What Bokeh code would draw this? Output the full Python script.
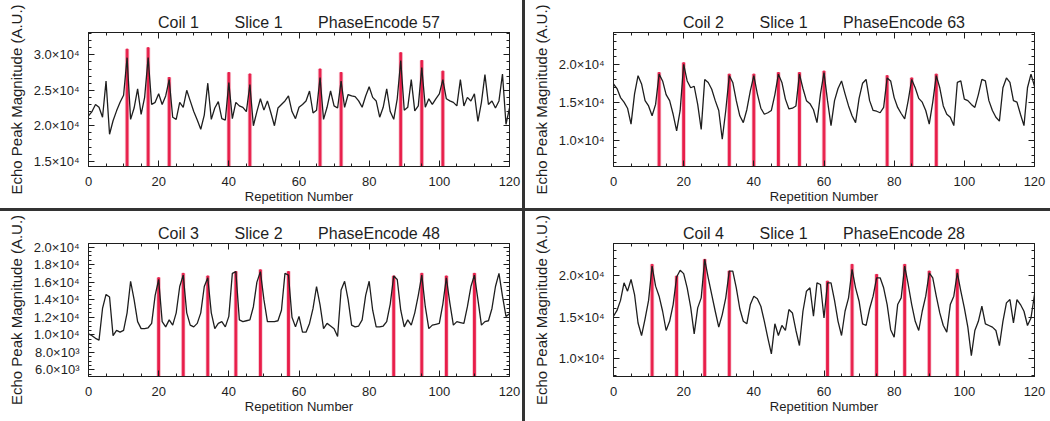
from bokeh.plotting import figure
from bokeh.models import Range1d, LinearAxis, FixedTicker, CustomJSTickFormatter, ColumnDataSource, Div
from bokeh.layouts import row, column
from bokeh.embed import file_html
from bokeh.resources import INLINE

repetition = list(range(0, 121))

coil1_values = [21.4, 22.0, 23.0, 22.6, 21.2, 26.3, 18.8, 20.7, 22.1, 23.3,
                24.3, 29.6, 20.9, 22.5, 25.2, 21.6, 24.0, 29.6, 23.0, 23.3,
                24.5, 23.0, 24.2, 26.5, 21.2, 20.9, 23.3, 22.6, 25.0, 23.5,
                22.0, 20.8, 19.5, 21.5, 26.0, 20.9, 22.5, 23.4, 21.0, 20.8,
                26.1, 21.0, 23.3, 22.8, 22.6, 22.0, 25.8, 20.0, 22.0, 23.8,
                22.2, 23.5, 21.8, 20.0, 22.5, 23.0, 23.5, 24.2, 22.0, 21.0,
                22.6, 23.0, 23.5, 24.9, 21.8, 22.2, 26.8, 20.9, 22.6, 24.9,
                22.8, 22.5, 26.3, 22.6, 24.4, 24.2, 24.1, 23.5, 22.6, 24.2,
                25.5, 24.0, 23.5, 21.2, 22.6, 25.2, 22.0, 20.9, 23.8, 29.2,
                22.2, 22.6, 26.5, 22.1, 22.8, 28.2, 22.6, 23.8, 23.0, 23.8,
                24.5, 26.5, 23.8, 23.5, 23.3, 22.8, 26.5, 22.8, 24.0, 23.5,
                24.5, 20.6, 23.3, 27.2, 23.0, 23.5, 22.5, 23.5, 27.3, 20.2,
                22.5]
coil1_marks = [11, 17, 23, 40, 46, 66, 72, 89, 95, 101]
coil1_mark_tops = [30.8, 31.0, 26.8, 27.5, 27.3, 28.0, 27.5, 30.3, 29.2, 27.7]

coil2_values = [17.4, 16.8, 15.6, 15.0, 14.2, 12.1, 16.1, 18.5, 17.4, 15.2,
                14.5, 13.2, 14.7, 18.7, 17.8, 16.0, 15.2, 13.4, 11.2, 13.9,
                20.0, 17.8, 16.9, 17.1, 14.7, 11.4, 18.0, 17.6, 16.7, 15.2,
                13.9, 10.1, 13.9, 18.5, 17.6, 15.2, 13.2, 12.3, 14.0, 16.5,
                18.5, 16.1, 14.2, 13.4, 13.6, 13.9, 16.0, 18.7, 17.6, 15.4,
                14.1, 14.2, 14.5, 18.7, 16.8, 15.2, 14.8, 14.0, 12.3, 16.1,
                18.9, 15.2, 11.9, 15.2, 16.8, 17.8, 16.1, 14.5, 13.2, 12.3,
                15.5, 17.5, 18.0, 15.2, 13.9, 13.8, 13.6, 14.3, 18.2, 17.8,
                15.6, 14.3, 13.5, 12.8, 15.2, 18.0, 16.9, 15.5, 15.0, 13.9,
                12.1, 15.0, 18.5, 16.9, 14.5, 13.4, 13.0, 11.9, 17.6, 17.8,
                15.4, 15.2, 14.7, 14.3, 16.0, 18.0, 17.8, 15.2, 13.9, 13.0,
                12.5, 16.9, 18.2, 17.6, 15.2, 15.0, 13.4, 11.9, 16.9, 18.7,
                17.1]
coil2_marks = [13, 20, 33, 40, 47, 53, 60, 78, 85, 92]
coil2_mark_tops = [18.9, 20.2, 18.7, 18.7, 18.9, 18.9, 19.1, 18.5, 18.2, 18.7]

coil3_values = [10.1, 9.9, 9.6, 9.4, 13.0, 14.6, 14.3, 9.9, 10.5, 10.3,
                10.5, 12.5, 16.1, 14.0, 11.5, 10.7, 10.7, 10.8, 11.3, 14.5,
                16.3, 11.5, 10.9, 11.7, 11.1, 12.5, 15.5, 16.8, 12.5, 11.1,
                10.9, 11.3, 12.5, 15.5, 16.5, 12.5, 10.7, 11.3, 11.5, 10.9,
                12.1, 17.0, 17.2, 11.7, 11.5, 11.6, 11.7, 13.2, 16.0, 17.2,
                14.0, 11.5, 11.5, 11.5, 11.6, 12.8, 17.0, 16.8, 12.0, 10.9,
                12.1, 10.3, 10.3, 11.3, 13.0, 15.5, 13.4, 10.7, 11.3, 11.0,
                10.7, 9.8, 15.1, 16.1, 14.0, 11.1, 10.9, 11.0, 11.7, 14.5,
                16.1, 12.8, 10.9, 10.9, 11.0, 11.5, 13.5, 16.7, 16.3, 12.8,
                10.9, 11.7, 11.1, 12.5, 14.5, 16.8, 13.2, 10.7, 11.1, 11.2,
                11.3, 13.5, 16.5, 13.6, 11.1, 11.5, 11.4, 11.3, 13.2, 15.5,
                16.8, 14.0, 11.1, 11.5, 11.6, 13.0, 15.5, 17.0, 14.4, 12.1,
                12.4]
coil3_marks = [20, 27, 34, 42, 49, 57, 87, 95, 102, 110]
coil3_mark_tops = [16.5, 17.0, 16.7, 17.2, 17.4, 17.2, 16.7, 17.0, 16.7, 17.0]

coil4_values = [15.1, 15.8, 17.0, 19.1, 18.1, 19.5, 17.7, 14.3, 12.8, 14.8,
                17.0, 21.1, 18.7, 17.5, 15.7, 13.4, 14.5, 16.5, 19.8, 20.6,
                20.2, 18.5, 16.2, 13.0, 16.1, 17.3, 21.9, 19.7, 17.7, 15.7,
                13.8, 15.3, 17.3, 20.5, 20.5, 18.5, 16.0, 14.5, 14.2, 16.5,
                17.5, 17.2, 16.3, 14.5, 12.5, 10.6, 14.2, 12.8, 14.0, 13.4,
                15.9, 15.5, 13.4, 11.6, 15.7, 18.1, 18.5, 15.1, 19.1, 18.9,
                14.9, 19.1, 19.1, 17.0, 14.5, 12.8, 15.7, 17.3, 20.7, 18.5,
                16.9, 14.2, 14.0, 16.0, 17.5, 19.7, 19.7, 18.5, 16.5, 13.5,
                12.6, 16.5, 17.3, 21.1, 18.9, 16.5, 14.5, 13.4, 15.7, 17.5,
                20.3, 19.7, 17.5, 15.5, 14.0, 13.2, 16.5, 17.5, 20.3, 18.1,
                16.1, 13.8, 10.4, 13.4, 14.5, 16.3, 14.2, 14.0, 13.8, 13.4,
                11.6, 14.5, 16.7, 17.1, 14.3, 17.1, 16.5, 15.7, 14.0, 14.9,
                17.7]
coil4_marks = [11, 18, 26, 33, 61, 68, 75, 83, 90, 98]
coil4_mark_tops = [21.3, 19.9, 21.9, 20.5, 19.3, 21.3, 20.1, 21.3, 20.5, 20.7]

titles = (["Coil 1", "Slice 1", "PhaseEncode 57"], ["Coil 2", "Slice 1", "PhaseEncode 63"],
          ["Coil 3", "Slice 2", "PhaseEncode 48"], ["Coil 4", "Slice 1", "PhaseEncode 28"])

x_ticks = [0, 20, 40, 60, 80, 100, 120]
y_ticks_1 = [15000, 20000, 25000, 30000]
y_ticks_2 = [10000, 15000, 20000]
y_ticks_3 = [6000, 8000, 10000, 12000, 14000, 16000, 18000, 20000]
y_ticks_4 = [10000, 15000, 20000]

FONT = "Liberation Sans"
INK = "#1e1e1e"
RED = "#e81e4a"

fmt_code = """
const e = Math.floor(Math.log10(Math.abs(tick)) + 1e-9);
const m = tick / Math.pow(10, e);
const sup = {"0":"\u2070","1":"\u00b9","2":"\u00b2","3":"\u00b3","4":"\u2074","5":"\u2075","6":"\u2076","7":"\u2077","8":"\u2078","9":"\u2079"};
return m.toFixed(1) + "\u00d710" + String(e).split("").map(c => sup[c]).join("");
"""


def make_panel(title_parts, values, marks, tops, y_range, y_ticks, y_minor_step,
               width, height, left, right, top, bottom, tick_standoff, xlabel_standoff):
    src = ColumnDataSource(dict(x=repetition, y=[v * 1000 for v in values]))
    msrc = ColumnDataSource(dict(x=marks, top=[t * 1000 for t in tops]))
    p = figure(width=width, height=height, output_backend="svg", toolbar_location=None,
               x_range=Range1d(0, 120), y_range=Range1d(*y_range),
               min_border_left=left, min_border_right=right,
               min_border_top=top, min_border_bottom=bottom,
               background_fill_color="white", border_fill_color="white")
    sp = "\u00a0" * 8
    p.title.text = sp.join(title_parts)
    p.title.align = "center"
    p.title.text_font = FONT
    p.title.text_font_size = "16px"
    p.title.text_font_style = "normal"
    p.title.text_color = INK
    p.title.standoff = 4
    p.outline_line_color = INK
    p.outline_line_width = 1
    p.xgrid.visible = False
    p.ygrid.visible = False

    bottom_val = y_range[0]
    p.vbar(x="x", top="top", bottom=bottom_val, width=1.0, source=msrc,
           color="#f4a3b6", alpha=0.5)
    p.vbar(x="x", top="top", bottom=bottom_val, width=0.5, source=msrc,
           color=RED)
    p.line("x", "y", source=src, color=INK, line_width=1.3)

    minor_x = [v for v in range(0, 121, 5) if v not in x_ticks]
    y0 = int(y_range[0] // y_minor_step + 1) * y_minor_step
    minor_y = [v for v in range(y0, int(y_range[1]) + 1, y_minor_step) if v not in y_ticks]
    xt = FixedTicker(ticks=x_ticks, minor_ticks=minor_x)
    yt = FixedTicker(ticks=y_ticks, minor_ticks=minor_y)

    def style(ax, labels=True):
        ax.major_tick_in = 6
        ax.major_tick_out = 0
        ax.minor_tick_in = 3
        ax.minor_tick_out = 0
        ax.axis_line_color = INK
        ax.major_tick_line_color = INK
        ax.minor_tick_line_color = INK
        if labels:
            ax.major_label_text_font = FONT
            ax.major_label_text_font_size = "13px"
            ax.major_label_text_color = INK
            ax.axis_label_text_font = FONT
            ax.axis_label_text_font_style = "normal"
            ax.axis_label_text_color = INK
        else:
            ax.major_label_text_font_size = "0px"
            ax.major_label_text_color = None
            ax.major_label_text_alpha = 0
            ax.major_label_standoff = 0

    xa = p.xaxis[0]
    xa.ticker = xt
    style(xa)
    xa.axis_label = "Repetition Number"
    xa.axis_label_text_font_size = "13px"
    xa.major_label_standoff = tick_standoff
    xa.axis_label_standoff = xlabel_standoff

    ya = p.yaxis[0]
    ya.ticker = yt
    style(ya)
    ya.formatter = CustomJSTickFormatter(code=fmt_code)
    ya.axis_label = "Echo Peak Magnitude (A.U.)"
    ya.axis_label_text_font_size = "15px"
    ya.major_label_standoff = 9
    ya.axis_label_standoff = 6
    ya.major_label_orientation = "horizontal"

    ta = LinearAxis(ticker=xt)
    style(ta, labels=False)
    p.add_layout(ta, "above")
    ra = LinearAxis(ticker=yt)
    style(ra, labels=False)
    p.add_layout(ra, "right")
    return p


p1 = make_panel(titles[0], coil1_values, coil1_marks, coil1_mark_tops, (14250, 33150),
                y_ticks_1, 1000, 522, 208, 88, 13, 32, 42, 10, 0)
p2 = make_panel(titles[1], coil2_values, coil2_marks, coil2_mark_tops, (6500, 24200),
                y_ticks_2, 1000, 525, 208, 88, 16, 32, 42, 10, 0)
p3 = make_panel(titles[2], coil3_values, coil3_marks, coil3_mark_tops, (5250, 20400),
                y_ticks_3, 500, 522, 210, 88, 13, 32, 45, 10, 0)
p4 = make_panel(titles[3], coil4_values, coil4_marks, coil4_mark_tops, (7900, 23800),
                y_ticks_4, 1000, 525, 210, 88, 16, 32, 45, 10, 0)

DIV_COLOR = "#333333"
v1 = Div(text="", width=3, height=208, margin=0, styles={"background-color": DIV_COLOR})
v2 = Div(text="", width=3, height=210, margin=0, styles={"background-color": DIV_COLOR})
hline = Div(text="", width=1050, height=3, margin=0, styles={"background-color": DIV_COLOR})

layout = column(row(p1, v1, p2, spacing=0), hline, row(p3, v2, p4, spacing=0), spacing=0)

open("out.html", "w").write(file_html(layout, INLINE))
